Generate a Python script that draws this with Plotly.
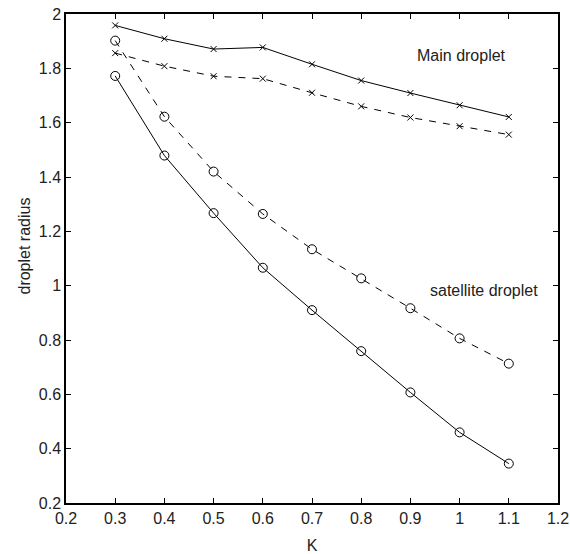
import plotly.graph_objects as go

K = [0.3, 0.4, 0.5, 0.6, 0.7, 0.8, 0.9, 1.0, 1.1]
main_solid = [1.958, 1.909, 1.871, 1.877, 1.815, 1.755, 1.709, 1.664, 1.621]
main_dashed = [1.856, 1.808, 1.771, 1.762, 1.71, 1.66, 1.619, 1.587, 1.556]
sat_dashed = [1.902, 1.622, 1.42, 1.264, 1.134, 1.027, 0.917, 0.806, 0.713]
sat_solid = [1.772, 1.479, 1.267, 1.066, 0.910, 0.759, 0.607, 0.46, 0.345]

FONT = "Liberation Sans, Arial, sans-serif"
TXT = "#222"

fig = go.Figure()

def add(y, dash, sym, size):
    fig.add_trace(go.Scatter(
        x=K, y=y, mode="lines+markers",
        line=dict(color="black", width=1, dash=dash),
        marker=dict(symbol=sym, size=size, color="black",
                    line=dict(color="black", width=1)),
        showlegend=False))

add(main_solid, "solid", "x-thin", 6)
add(main_dashed, "7px,7px", "x-thin", 6)
add(sat_dashed, "7px,7px", "circle-open", 9)
add(sat_solid, "solid", "circle-open", 9)

fig.add_annotation(x=1.003, y=1.846, text="Main droplet", showarrow=False,
                   font=dict(family=FONT, size=16, color=TXT))
fig.add_annotation(x=1.05, y=0.982, text="satellite droplet", showarrow=False,
                   font=dict(family=FONT, size=16, color=TXT))
fig.add_annotation(xref="paper", x=0, y=1.146, xshift=-53, text="droplet radius",
                   textangle=-90, showarrow=False,
                   font=dict(family=FONT, size=16, color=TXT))

axis_common = dict(showgrid=False, zeroline=False, ticks="inside", ticklen=5,
                   tickcolor="black", showline=True, linecolor="black",
                   linewidth=1.5, mirror="ticks", automargin=False,
                   tickfont=dict(family=FONT, size=16, color=TXT))

fig.update_xaxes(range=[0.2, 1.2], dtick=0.1, tick0=0.2,
                 title=dict(text="K", font=dict(family=FONT, size=16, color=TXT), standoff=16),
                 **axis_common)
fig.update_yaxes(range=[0.2, 2.0], dtick=0.2, tick0=0.2, **axis_common)

fig.update_layout(width=570, height=554, plot_bgcolor="white", paper_bgcolor="white",
                  margin=dict(l=66, r=12, t=14, b=51),
                  font=dict(family=FONT))

fig.write_html("out.html")
